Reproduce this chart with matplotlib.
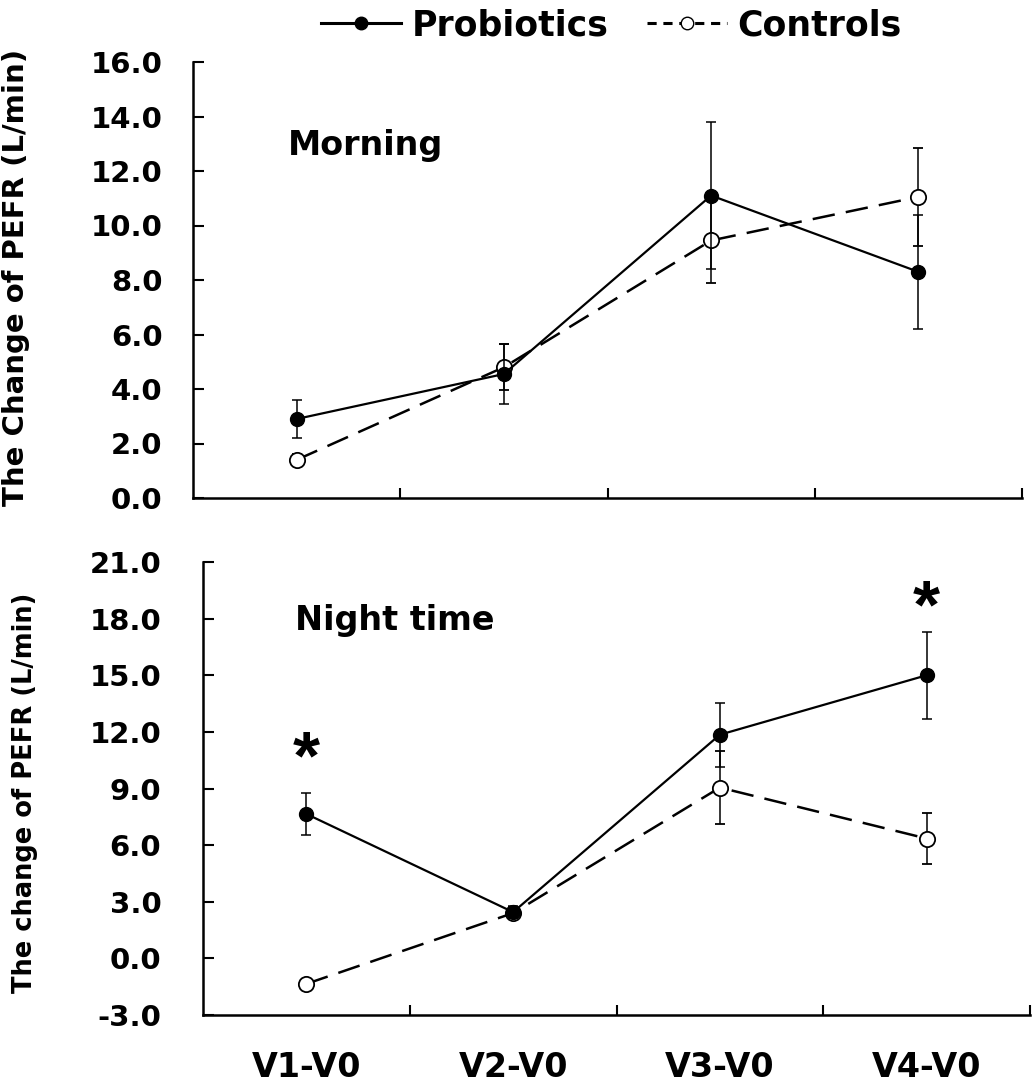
import matplotlib
matplotlib.use("Agg")
import matplotlib.pyplot as plt
from matplotlib.lines import Line2D

plt.rcParams['font.family'] = ['DejaVu Sans']
plt.rcParams['font.weight'] = 'bold'

categories = ["V1-V0", "V2-V0", "V3-V0", "V4-V0"]

# Morning
morning_prob = [2.9, 4.55, 11.1, 8.3]
morning_prob_err = [0.7, 1.1, 2.7, 2.1]
morning_ctrl = [1.4, 4.8, 9.45, 11.05]
morning_ctrl_err = [0.2, 0.85, 1.55, 1.8]

# Night time
night_prob = [7.65, 2.45, 11.85, 15.0]
night_prob_err = [1.1, 0.3, 1.7, 2.3]
night_ctrl = [-1.35, 2.4, 9.05, 6.35]
night_ctrl_err = [0.2, 0.3, 1.95, 1.35]

morning_yticks = [0, 2, 4, 6, 8, 10, 12, 14, 16]
night_yticks = [-3, 0, 3, 6, 9, 12, 15, 18, 21]
star_idx = [0, 3]
star_y = [10.5, 18.5]

W, H = 1036, 1083
fig = plt.figure(figsize=(W / 100, H / 100), dpi=100)
ax1 = fig.add_axes([193 / W, 1 - 498 / H, (1022 - 193) / W, (498 - 62) / H])
ax2 = fig.add_axes([203 / W, 1 - 1015 / H, (1030 - 203) / W, (1015 - 562) / H])

x = list(range(1, len(categories) + 1))


def style(ax, yticks, ylabel, ylabel_size, show_labels, ypad):
    ax.set_xlim(0.5, len(categories) + 0.5)
    ax.set_ylim(yticks[0], yticks[-1])
    ax.set_yticks(yticks)
    ax.set_yticklabels([f"{v:.1f}" for v in yticks], fontsize=21, fontweight='bold')
    ax.set_xticks([i + 0.5 for i in x])
    ax.set_xticklabels([])
    ax.set_xticks(x, minor=True)
    if show_labels:
        ax.set_xticklabels(categories, minor=True, fontsize=24, fontweight='bold')
    else:
        ax.set_xticklabels([], minor=True)
    ax.tick_params(axis='x', which='minor', length=0, pad=26)
    ax.tick_params(axis='x', which='major', direction='in', length=7, width=1.5)
    ax.tick_params(axis='y', direction='in', length=8, width=1.5, pad=ypad)
    for s in ['top', 'right']:
        ax.spines[s].set_visible(False)
    for s in ['left', 'bottom']:
        ax.spines[s].set_linewidth(1.8)
    ax.set_ylabel(ylabel, fontsize=ylabel_size, fontweight='bold')


def draw(ax, prob, prob_err, ctrl, ctrl_err):
    ax.errorbar(x, ctrl, yerr=ctrl_err, color='black', linestyle=(0, (9, 4.5)), lw=1.8,
                marker='o', markersize=11, markerfacecolor='white', markeredgecolor='black',
                markeredgewidth=1.3, elinewidth=1.1, capsize=3.5, capthick=1.1, zorder=3)
    ax.errorbar(x, prob, yerr=prob_err, color='black', linestyle='-', lw=1.6,
                marker='o', markersize=10, markerfacecolor='black', markeredgecolor='black',
                elinewidth=1.1, capsize=3.5, capthick=1.1, zorder=4)


draw(ax1, morning_prob, morning_prob_err, morning_ctrl, morning_ctrl_err)
draw(ax2, night_prob, night_prob_err, night_ctrl, night_ctrl_err)
style(ax1, morning_yticks, "The Change of PEFR (L/min)", 21, False, 22)
style(ax2, night_yticks, "The change of PEFR (L/min)", 18.5, True, 30)

# y-label centres (figure pixels -> axes coordinates)
ax1.yaxis.set_label_coords((30 - 193) / (1022 - 193), (498 - 277) / (498 - 62))
ax2.yaxis.set_label_coords((38 - 203) / (1030 - 203), (1015 - 793) / (1015 - 562))

ax1.text(0.96, 12.95, "Morning", fontsize=24, fontweight='bold', va='center', ha='left')
ax2.text(0.945, 17.9, "Night time", fontsize=24, fontweight='bold', va='center', ha='left')
for i, yv in zip(star_idx, star_y):
    ax2.text(x[i], yv, "*", fontsize=50, fontweight='bold', ha='center', va='center',
             family='Liberation Sans')

handles = [
    Line2D([], [], color='black', lw=2.2, marker='o', markersize=9, markerfacecolor='black'),
    Line2D([], [], color='black', lw=2.2, linestyle=(0, (3, 2.2)), marker='o', markersize=9,
           markerfacecolor='white', markeredgecolor='black'),
]
fig.legend(handles, ["Probiotics", "Controls"], loc='center', bbox_to_anchor=(0.590, 1 - 25 / H),
           ncol=2, frameon=False, prop={'size': 25, 'weight': 'bold'}, handlelength=2.3,
           handletextpad=0.3, columnspacing=1.1, borderpad=0, borderaxespad=0)

fig.savefig("out.png", dpi=100)
